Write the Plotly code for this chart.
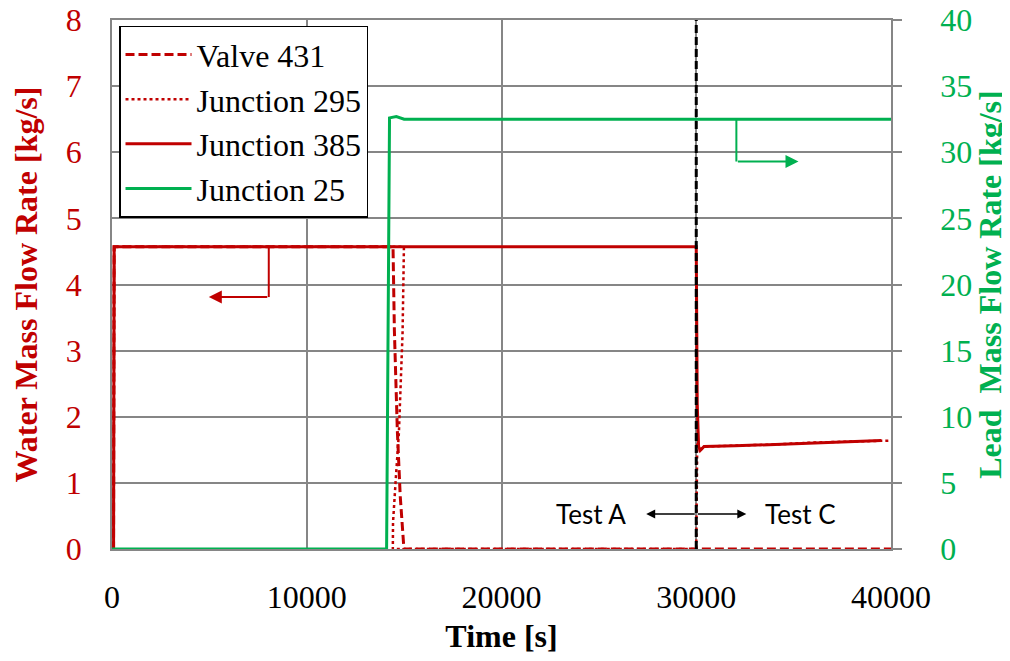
import plotly.graph_objects as go

RED = "#C00000"
GREEN = "#00B050"
GRID = "#868686"

# Valve 431 (dashed)
t_valve = [0, 80, 110, 14430, 14500, 14650, 14800, 14990, 40000]
m_valve = [0, 0, 4.57, 4.57, 3.3, 1.8, 0.8, 0, 0]

# Junction 295 (dotted)
t_j295 = [0, 80, 110, 14990, 14920, 14730, 14580, 14430, 14420, 30000, 30050, 30200, 30400, 32000, 34000, 36000, 38000, 40000]
m_j295 = [0, 0, 4.57, 4.57, 3.27, 1.75, 1.1, 0.4, 0, 0, 1.6, 1.49, 1.55, 1.56, 1.58, 1.61, 1.63, 1.64]

# Junction 385 (solid red)
t_j385 = [0, 80, 110, 30000, 30050, 30120, 30200, 30400, 32000, 34000, 36000, 38000, 39500]
m_j385 = [0, 0, 4.57, 4.57, 2.2, 1.55, 1.49, 1.55, 1.56, 1.58, 1.61, 1.63, 1.64]

# Junction 25 (lead, right axis)
t_j25 = [0, 14100, 14250, 14600, 15000, 40000]
m_j25 = [0, 0, 32.6, 32.7, 32.5, 32.5]

x_ticks = [0, 10000, 20000, 30000, 40000]
x_labels = ["0", "10000", "20000", "30000", "40000"]
test_switch = 30000

fig = go.Figure()
fig.add_trace(go.Scatter(x=t_j295, y=m_j295, name="Junction 295", mode="lines",
                         line=dict(color=RED, width=2.5, dash="dot"), legendrank=2))
fig.add_trace(go.Scatter(x=t_valve, y=m_valve, name="Valve 431", mode="lines",
                         line=dict(color=RED, width=3, dash="9px,4px"), legendrank=1))
fig.add_trace(go.Scatter(x=t_j385, y=m_j385, name="Junction 385", mode="lines",
                         line=dict(color=RED, width=3), legendrank=3))
fig.add_trace(go.Scatter(x=t_j25, y=m_j25, name="Junction 25", mode="lines", yaxis="y2",
                         line=dict(color=GREEN, width=3), legendrank=4))

serif = "Liberation Serif, Times New Roman, serif"

# page body has an 8px margin, so the figure is 1002x653
fig.update_layout(
    width=1002, height=653,
    margin=dict(l=104, r=119, t=12, b=112),
    paper_bgcolor="white", plot_bgcolor="white",
    font=dict(family=serif, size=32, color="black"),
    xaxis=dict(range=[0, 40000], tickvals=x_ticks, ticktext=x_labels, showgrid=True,
               gridcolor=GRID, gridwidth=1.5, automargin=False, ticklabeloverflow="allow",
               showline=True, linecolor=GRID, linewidth=1.5, mirror=True, zeroline=False,
               ticks="", ticklabelstandoff=19, tickfont=dict(size=32),
               title=dict(text="<b>Time [s]</b>", font=dict(size=32), standoff=10)),
    yaxis=dict(range=[0, 8], dtick=1, showgrid=True, gridcolor=GRID, gridwidth=1.5, automargin=False,
               showline=True, linecolor=GRID, linewidth=1.5, zeroline=False, ticks="",
               ticklabeloverflow="allow",
               ticklabelstandoff=22, tickfont=dict(size=32, color=RED),
               title=dict(text="<b>Water Mass Flow Rate [kg/s]</b>", font=dict(size=32, color=RED), standoff=19)),
    yaxis2=dict(range=[0, 40], dtick=5, overlaying="y", side="right", showgrid=False, automargin=False,
                showline=True, linecolor=GRID, linewidth=1.5, zeroline=False,
                ticks="outside", ticklen=9, tickwidth=1.5, tickcolor=GRID,
                ticklabeloverflow="allow",
                ticklabelstandoff=32, tickfont=dict(size=32, color=GREEN),
                title=dict(text="<b>Lead\u00a0 Mass Flow Rate [kg/s]</b>", font=dict(size=32, color=GREEN), standoff=0)),
    legend=dict(x=0.009, y=0.989, xanchor="left", yanchor="top", bgcolor="white",
                bordercolor="black", borderwidth=1.5, font=dict(size=32, family=serif),
                tracegroupgap=0, itemwidth=66),
    showlegend=True,
)

# test switch line
fig.add_shape(type="line", x0=test_switch, x1=test_switch, y0=0, y1=1, xref="x", yref="paper",
              line=dict(color="black", width=3, dash="8px,4px"))

# red bent arrow to left axis
fig.add_shape(type="line", x0=8050, x1=8050, y0=4.57, y1=3.81, xref="x", yref="y",
              line=dict(color=RED, width=2))
fig.add_annotation(x=4970, y=3.81, ax=8050, ay=3.81, axref="x", ayref="y", xref="x", yref="y",
                   text="", showarrow=True, arrowhead=2, arrowsize=1.3, arrowwidth=2, arrowcolor=RED)

# green bent arrow to right axis
fig.add_shape(type="line", x0=32060, x1=32060, y0=32.5, y1=29.3, xref="x", yref="y2",
              line=dict(color=GREEN, width=2))
fig.add_annotation(x=35250, y=29.3, ax=32060, ay=29.3, axref="x", ayref="y2", xref="x", yref="y2",
                   text="", showarrow=True, arrowhead=2, arrowsize=1.3, arrowwidth=2, arrowcolor=GREEN)

# Test A / Test C
for head in (27430, 32570):
    fig.add_annotation(x=head, y=0.53, ax=test_switch, ay=0.53, axref="x", ayref="y", xref="x", yref="y",
                       text="", showarrow=True, arrowhead=2, arrowsize=1.2, arrowwidth=1.5, arrowcolor="black")
fig.add_annotation(x=24600, y=0.53, text="Test A", showarrow=False,
                   font=dict(family="Lato, Liberation Sans, Arial", size=26, color="black"))
fig.add_annotation(x=35350, y=0.53, text="Test C", showarrow=False,
                   font=dict(family="Lato, Liberation Sans, Arial", size=26, color="black"))

fig.write_html("out.html")
